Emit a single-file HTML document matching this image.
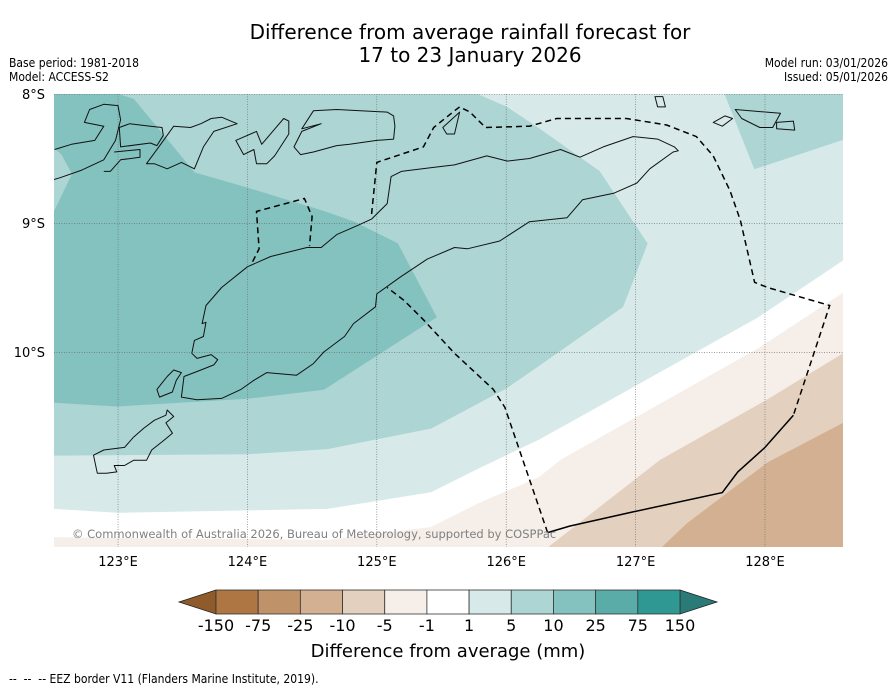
<!DOCTYPE html>
<html><head><meta charset="utf-8">
<style>
html,body{margin:0;padding:0;background:#fff;width:896px;height:690px;overflow:hidden}
svg{display:block}
text{font-family:"DejaVu Sans","Liberation Sans",sans-serif}
.cond{font-family:"DejaVu Sans Condensed","DejaVu Sans","Liberation Sans",sans-serif}
</style></head>
<body>
<svg id="chart" width="896" height="690" viewBox="0 0 896 690" xmlns="http://www.w3.org/2000/svg">
<text x="470" y="39" font-size="20" text-anchor="middle">Difference from average rainfall forecast for</text>
<text x="470" y="62" font-size="20" text-anchor="middle">17 to 23 January 2026</text>
<text class="cond" x="9" y="67" font-size="12">Base period: 1981-2018</text>
<text class="cond" x="9" y="81" font-size="12">Model: ACCESS-S2</text>
<text class="cond" x="888" y="67" font-size="12" text-anchor="end">Model run: 03/01/2026</text>
<text class="cond" x="888" y="81" font-size="12" text-anchor="end">Issued: 05/01/2026</text>
<defs><clipPath id="mapclip"><rect x="54" y="94" width="789" height="453"/></clipPath></defs>
<g id="map" clip-path="url(#mapclip)"></g>
<g id="axes"></g>
<text x="72" y="538" font-size="11.5" fill="#808080">© Commonwealth of Australia 2026, Bureau of Meteorology, supported by COSPPac</text>
<g id="cbar"></g>
<text x="448" y="657" font-size="18" text-anchor="middle">Difference from average (mm)</text>
<text class="cond" x="9" y="683" font-size="12" xml:space="preserve" style="white-space:pre">--  --  -- EEZ border V11 (Flanders Marine Institute, 2019).</text>
</svg>
<script>
// ---- data ----
const lonTicks = [123,124,125,126,127,128];
const latTicks = [8,9,10];
const cbarLevels = ["-150","-75","-25","-10","-5","-1","1","5","10","25","75","150"];
const cbarColors = ["#ad7643","#c0926a","#d2b091","#e4d0be","#f5eee9","#ffffff","#d7eae9","#acd5d4","#84c2c0","#5aaca9","#2f9893"];
const arrowLow = "#8f5b2b", arrowHigh = "#2a7b77";
// contour polygons (lon, lat°S)
const contour_10_25 = [[122.5,8],[122.99,8],[123.12,8.04],[123.59,8.61],[123.97,8.72],[124.59,8.91],[124.82,8.99],[125.16,9.16],[125.46,9.73],[124.59,10.29],[124.0,10.36],[122.99,10.42],[122.5,10.39]];
const contour_5_10_wedge = [[122.5,8.42],[122.56,8.47],[122.64,8.62],[122.5,8.91]];
const contour_5_10 = [[122.5,8],[125.77,8],[126.0,8.10],[126.24,8.26],[126.72,8.60],[127.09,9.16],[126.9,9.65],[126.26,10.10],[126.0,10.28],[125.42,10.59],[124.62,10.75],[124.0,10.79],[122.5,10.80]];
const contour_5_10_ne = [[127.69,8],[128.61,8],[128.61,8.35],[127.92,8.58]];
const contour_white = [[122.5,11.22],[122.99,11.25],[124.62,11.22],[125.42,11.09],[125.80,10.90],[126.26,10.68],[127.94,9.74],[128.61,9.29],[128.61,11.52],[122.5,11.52]];
const contour_m5 = [[122.5,11.44],[124.62,11.46],[125.42,11.36],[125.80,11.17],[126.26,10.97],[126.42,10.84],[127.94,9.98],[128.61,9.54],[128.61,11.52],[122.5,11.52]];
const contour_m10 = [[126.32,11.52],[127.19,10.84],[128.02,10.37],[128.61,10.01],[128.61,11.52]];
const contour_m25 = [[127.20,11.52],[127.40,11.33],[128.02,10.86],[128.61,10.55],[128.61,11.52]];
// coastlines
const timor = [[123.65,9.78],[123.68,9.64],[123.80,9.50],[124.00,9.34],[124.18,9.26],[124.46,9.19],[124.57,9.19],[124.69,9.09],[124.85,9.02],[124.96,8.97],[125.08,8.85],[125.11,8.64],[125.19,8.60],[125.43,8.57],[125.60,8.55],[125.85,8.48],[126.01,8.52],[126.18,8.50],[126.42,8.43],[126.57,8.49],[126.75,8.41],[126.98,8.33],[127.17,8.35],[127.30,8.41],[127.33,8.44],[127.29,8.45],[127.11,8.58],[127.01,8.69],[126.83,8.77],[126.59,8.82],[126.47,8.96],[126.18,8.99],[125.95,9.14],[125.70,9.20],[125.60,9.19],[125.39,9.28],[125.18,9.42],[125.00,9.55],[124.99,9.65],[124.82,9.78],[124.75,9.88],[124.59,10.00],[124.51,10.09],[124.38,10.18],[124.15,10.16],[124.05,10.22],[123.95,10.29],[123.80,10.36],[123.61,10.37],[123.49,10.35],[123.51,10.19],[123.64,10.14],[123.74,10.10],[123.77,10.06],[123.72,10.02],[123.61,10.05],[123.57,10.01],[123.59,9.91],[123.66,9.88],[123.68,9.77]];
const semau = [[123.43,10.14],[123.49,10.16],[123.45,10.22],[123.42,10.31],[123.32,10.35],[123.30,10.29],[123.38,10.19]];
const rote = [[123.38,10.45],[123.43,10.50],[123.37,10.55],[123.42,10.63],[123.36,10.68],[123.26,10.76],[123.22,10.84],[123.12,10.84],[123.05,10.88],[122.97,10.88],[122.99,10.93],[122.91,10.94],[122.84,10.94],[122.81,10.80],[122.89,10.76],[123.05,10.74],[123.12,10.66],[123.20,10.59],[123.28,10.53],[123.37,10.49]];
const flores = [[122.51,8.43],[122.64,8.39],[122.82,8.36],[122.89,8.25],[122.74,8.22],[122.78,8.12],[122.89,8.08],[123.00,8.09],[123.02,8.20],[122.98,8.36],[122.89,8.51],[122.72,8.59],[122.55,8.65],[122.48,8.67]];
const solor = [[122.97,8.45],[123.17,8.43],[123.17,8.49],[123.02,8.51],[122.94,8.60],[122.89,8.60]];
const lembata = [[123.01,8.26],[123.09,8.23],[123.25,8.25],[123.34,8.26],[123.35,8.32],[123.30,8.40],[123.25,8.38],[123.02,8.41]];
const pantar = [[123.22,8.54],[123.33,8.39],[123.43,8.25],[123.56,8.26],[123.64,8.23],[123.72,8.19],[123.80,8.18],[123.92,8.23],[123.74,8.29],[123.66,8.41],[123.59,8.58],[123.49,8.53],[123.38,8.58],[123.28,8.54]];
const alor = [[123.91,8.36],[124.07,8.29],[124.11,8.39],[124.28,8.19],[124.32,8.21],[124.32,8.31],[124.21,8.48],[124.15,8.54],[124.07,8.54],[124.05,8.43],[123.97,8.47]];
const wetar = [[124.36,8.41],[124.42,8.29],[124.57,8.23],[124.42,8.27],[124.51,8.13],[124.69,8.12],[125.08,8.14],[125.13,8.17],[125.14,8.25],[125.13,8.35],[125.00,8.36],[124.79,8.39],[124.69,8.40],[124.51,8.45],[124.41,8.47]];
const atauro = [[125.51,8.26],[125.64,8.14],[125.60,8.31],[125.54,8.31]];
const kisar = [[127.15,8.02],[127.21,8.02],[127.23,8.10],[127.17,8.10]];
const leti = [[127.60,8.22],[127.69,8.17],[127.75,8.19],[127.67,8.25]];
const moa = [[127.77,8.12],[128.12,8.15],[128.06,8.26],[127.96,8.26],[127.82,8.19]];
const lakor = [[128.09,8.22],[128.22,8.21],[128.23,8.28],[128.09,8.27]];
// EEZ border
const eezOecusse = [[124.04,9.30],[124.09,9.20],[124.07,8.91],[124.44,8.81],[124.50,8.95],[124.48,9.18]];
const eezNorth = [[124.96,8.93],[125.00,8.53],[125.36,8.41],[125.44,8.26],[125.60,8.13],[125.64,8.10],[125.72,8.14],[125.84,8.26],[126.18,8.25],[126.39,8.19],[126.93,8.19],[127.24,8.24],[127.47,8.33],[127.60,8.48],[127.73,8.75],[127.81,8.98],[127.92,9.46],[128.02,9.50],[128.50,9.64],[128.22,10.49]];
const eezSolid = [[128.22,10.49],[128.00,10.74],[127.79,10.93],[127.67,11.09],[126.98,11.24],[126.49,11.35],[126.32,11.40]];
const eezSouth = [[126.32,11.40],[125.99,10.43],[125.90,10.29],[125.60,10.01],[125.36,9.75],[125.21,9.60],[125.08,9.50]];

// ---- projection ----
const X0=54, X1=843, Y0=94, Y1=547, LON0=122.505, LON1=128.603, LAT0=8, LAT1=11.512;
function xScale(lon){return X0+(lon-LON0)/(LON1-LON0)*(X1-X0);}
function yScale(lat){return Y0+(lat-LAT0)/(LAT1-LAT0)*(Y1-Y0);}
const NS='http://www.w3.org/2000/svg';
function mk(tag,attrs,parent){const e=document.createElementNS(NS,tag);for(const k in attrs)e.setAttribute(k,attrs[k]);parent.appendChild(e);return e;}
function pts(arr){return arr.map(p=>xScale(p[0]).toFixed(1)+','+yScale(p[1]).toFixed(1)).join(' ');}

const map=document.getElementById('map');
let bg=mk('rect',{x:X0,y:Y0,width:X1-X0,height:Y1-Y0,fill:cbarColors[6]},map);


const fills=[[contour_5_10,cbarColors[7],'contour-5-to-10'],[contour_5_10_ne,cbarColors[7],'contour-5-to-10-ne'],[contour_10_25,cbarColors[8],'contour-10-to-25'],[contour_5_10_wedge,cbarColors[7],'contour-5-to-10-west'],[contour_white,cbarColors[5],'contour-minus1-to-1'],[contour_m5,cbarColors[4],'contour-minus5-to-minus1'],[contour_m10,cbarColors[3],'contour-minus10-to-minus5'],[contour_m25,cbarColors[2],'contour-minus25-to-minus10']];
fills.forEach(f=>{
  const p=mk('polygon',{points:pts(f[0]),fill:f[1],stroke:f[1],'stroke-width':0.8},map);
  
  
});
// gridlines
lonTicks.forEach(l=>{
  const g=mk('line',{x1:xScale(l),x2:xScale(l),y1:Y0,y2:Y1,stroke:'#666','stroke-width':0.6,'stroke-dasharray':'1,1.5'},map);
  
  
});
latTicks.forEach(l=>{
  const g=mk('line',{x1:X0,x2:X1,y1:yScale(l)+0.5,y2:yScale(l)+0.5,stroke:'#666','stroke-width':0.6,'stroke-dasharray':'1,1.5'},map);
  
  
});
// coastlines
[[timor,'timor-coast'],[semau,'semau-coast'],[rote,'rote-coast'],[flores,'flores-coast'],[solor,'solor-coast'],[lembata,'lembata-coast'],[pantar,'pantar-coast'],[alor,'alor-coast'],[wetar,'wetar-coast'],[atauro,'atauro-coast'],[kisar,'kisar-coast'],[leti,'leti-coast'],[moa,'moa-coast'],[lakor,'lakor-coast']].forEach(c=>{
  const tag = c[1]==='flores-coast'||c[1]==='solor-coast' ? 'polyline':'polygon';
  const p=mk(tag,{points:pts(c[0]),fill:'none',stroke:'#111','stroke-width':1,'stroke-linejoin':'round'},map);
  
  
});
// EEZ
[[eezOecusse,'eez-oecusse',true],[eezNorth,'eez-north',true],[eezSolid,'eez-south-solid',false],[eezSouth,'eez-south',true]].forEach(c=>{
  const a={points:pts(c[0]),fill:'none',stroke:'#000','stroke-width':1.5};
  if(c[2])a['stroke-dasharray']='6,4';
  const p=mk('polyline',a,map);
  
  
});
// axis labels
const axes=document.getElementById('axes');
lonTicks.forEach(l=>{
  const t=mk('text',{x:xScale(l),y:566,'font-size':13,'text-anchor':'middle'},axes);
  t.textContent=l+'°E';
  
  
});
latTicks.forEach(l=>{
  const t=mk('text',{x:45,y:yScale(l)+5,'font-size':13,'text-anchor':'end'},axes);
  t.textContent=l+'°S';
  
  
});
// colorbar
const cb=document.getElementById('cbar');
const CBX0=216, CBX1=680, CBY=590, CBH=24, nSeg=cbarColors.length, segW=(CBX1-CBX0)/nSeg;
let la=mk('polygon',{points:`${CBX0},${CBY} 179,${CBY+CBH/2} ${CBX0},${CBY+CBH}`,fill:arrowLow,stroke:'#222','stroke-width':0.8},cb);


let ra=mk('polygon',{points:`${CBX1},${CBY} 717,${CBY+CBH/2} ${CBX1},${CBY+CBH}`,fill:arrowHigh,stroke:'#222','stroke-width':0.8},cb);


cbarColors.forEach((c,i)=>{
  const r=mk('rect',{x:CBX0+i*segW,y:CBY,width:segW,height:CBH,fill:c,stroke:'#333','stroke-width':0.8},cb);
  
  
});
cbarLevels.forEach((v,i)=>{
  const t=mk('text',{x:CBX0+i*segW,y:631,'font-size':16,'text-anchor':'middle'},cb);
  t.textContent=v;
  
  
});
</script>
</body></html>
